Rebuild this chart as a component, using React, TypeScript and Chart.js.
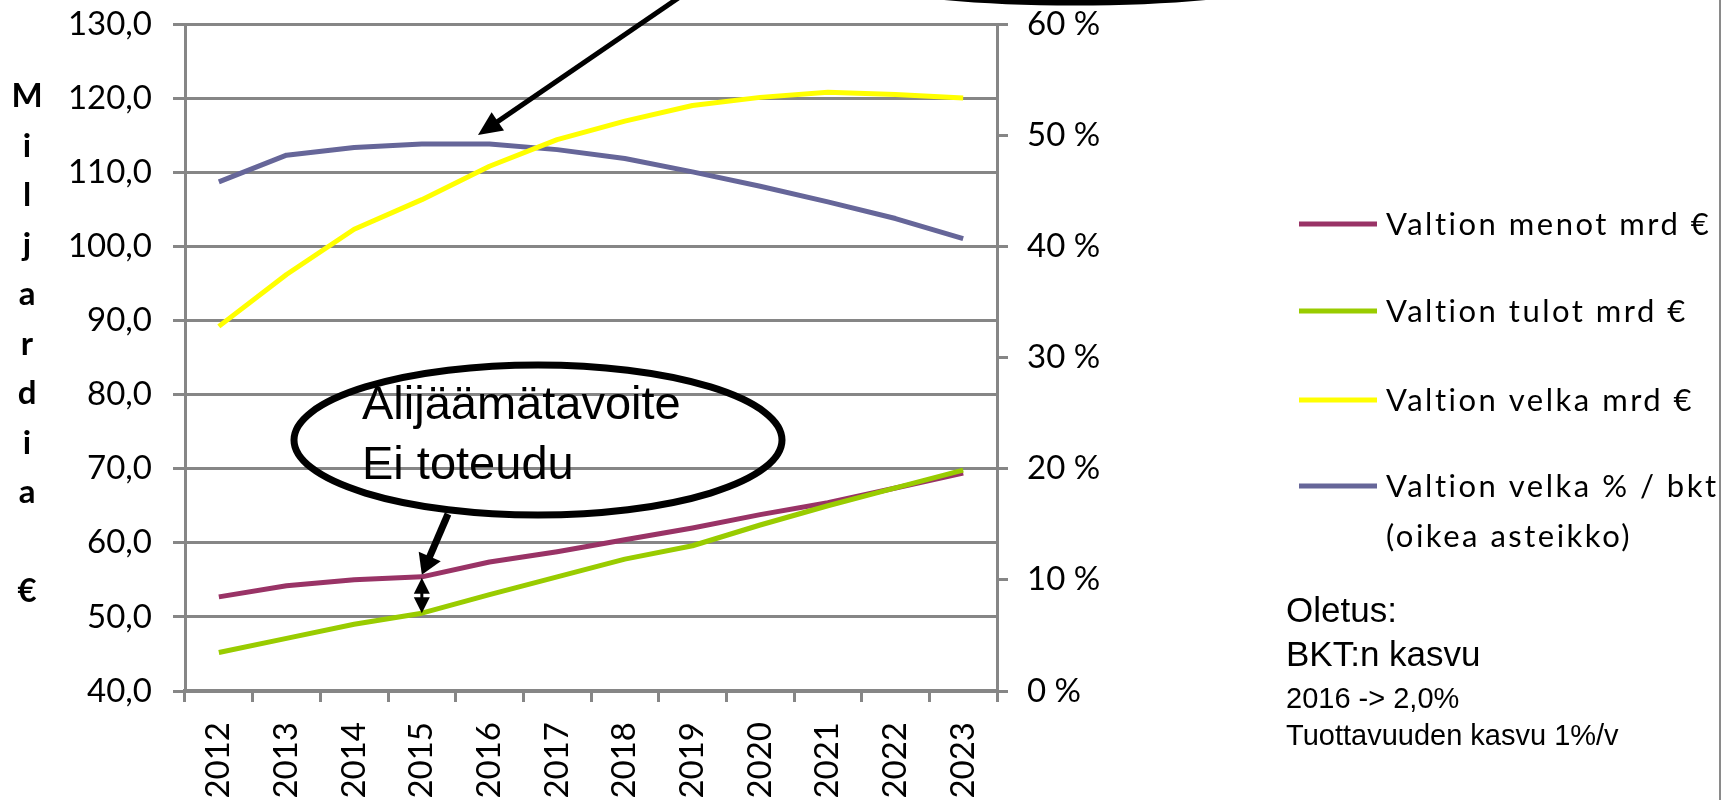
import React, { useEffect, useRef } from 'react';
import { Chart, registerables } from 'chart.js';

Chart.register(...registerables);

// ---- Data ----
const years = ['2012', '2013', '2014', '2015', '2016', '2017', '2018', '2019', '2020', '2021', '2022', '2023'];
const menot = [52.7, 54.2, 55.0, 55.4, 57.4, 58.8, 60.4, 62.0, 63.8, 65.4, 67.4, 69.4];
const tulot = [45.2, 47.1, 49.0, 50.5, 53.0, 55.4, 57.8, 59.6, 62.4, 65.0, 67.4, 69.8];
const velka = [89.2, 96.2, 102.3, 106.3, 110.8, 114.4, 116.9, 119.0, 120.1, 120.8, 120.5, 120.0];
const velkaPct = [45.8, 48.2, 48.9, 49.2, 49.2, 48.7, 47.9, 46.7, 45.4, 44.0, 42.5, 40.7];

const legendLines = [
  ['Valtion menot mrd €'],
  ['Valtion tulot mrd €'],
  ['Valtion velka mrd €'],
  ['Valtion velka % / bkt', '(oikea asteikko)'],
];
const seriesColors = ['#993366', '#99CC00', '#FFFF00', '#666699'];
const yTitle = 'Miljardia €';
const calloutLines = ['Alijäämätavoite', 'Ei toteudu'];
const noteLines = ['Oletus:', 'BKT:n kasvu', '2016 -> 2,0%', 'Tuottavuuden kasvu 1%/v'];

const GRID = '#868686';
const FONT = 'Lato, "Open Sans", sans-serif';
const ARIAL = '"Liberation Sans", Arial, sans-serif';

function arrowHead(ctx: CanvasRenderingContext2D, x1: number, y1: number, x2: number, y2: number, len: number, wid: number) {
  const a = Math.atan2(y2 - y1, x2 - x1);
  const bx = x2 - len * Math.cos(a);
  const by = y2 - len * Math.sin(a);
  const nx = -Math.sin(a), ny = Math.cos(a);
  ctx.beginPath();
  ctx.moveTo(x2, y2);
  ctx.lineTo(bx + nx * wid / 2, by + ny * wid / 2);
  ctx.lineTo(bx - nx * wid / 2, by - ny * wid / 2);
  ctx.closePath();
  ctx.fill();
}

function arrow(ctx: CanvasRenderingContext2D, x1: number, y1: number, x2: number, y2: number, lw: number, len: number, wid: number) {
  const a = Math.atan2(y2 - y1, x2 - x1);
  ctx.lineWidth = lw;
  ctx.beginPath();
  ctx.moveTo(x1, y1);
  ctx.lineTo(x2 - (len - 2) * Math.cos(a), y2 - (len - 2) * Math.sin(a));
  ctx.stroke();
  arrowHead(ctx, x1, y1, x2, y2, len, wid);
}

const overlay = {
  id: 'overlay',
  afterDraw(chart: any) {
    const ctx: CanvasRenderingContext2D = chart.ctx;
    const xs = chart.scales.x;
    const ys = chart.scales.y;
    ctx.save();
    ctx.fillStyle = '#000';
    ctx.strokeStyle = '#000';

    // vertical y-axis title, stacked letters
    ctx.font = `bold 33px ${FONT}`;
    ctx.textAlign = 'center';
    ctx.textBaseline = 'alphabetic';
    Array.from(yTitle).forEach((c, i) => {
      ctx.fillText(c, 27, 107 + i * 49.5);
    });

    // legend
    const legendY = [224, 311, 400, 486];
    ctx.textAlign = 'left';
    ctx.font = `31px ${FONT}`;
    (ctx as any).letterSpacing = '2.5px';
    legendLines.forEach((lines, i) => {
      const cy = legendY[i];
      ctx.strokeStyle = seriesColors[i];
      ctx.lineWidth = 5;
      ctx.beginPath();
      ctx.moveTo(1299, cy);
      ctx.lineTo(1377, cy);
      ctx.stroke();
      ctx.fillStyle = '#000';
      lines.forEach((t, j) => ctx.fillText(t, 1386, cy + 11 + j * 50));
    });
    (ctx as any).letterSpacing = '0px';

    // notes
    ctx.font = `35px ${ARIAL}`;
    ctx.fillText(noteLines[0], 1286, 622);
    ctx.fillText(noteLines[1], 1286, 666);
    ctx.font = `29px ${ARIAL}`;
    ctx.fillText(noteLines[2], 1286, 708);
    ctx.fillText(noteLines[3], 1286, 745);

    // right border line
    ctx.strokeStyle = '#8a8a8a';
    ctx.lineWidth = 2;
    ctx.beginPath();
    ctx.moveTo(1720, 0);
    ctx.lineTo(1720, 800);
    ctx.stroke();

    // callout ellipse
    ctx.strokeStyle = '#000';
    ctx.lineWidth = 7;
    ctx.beginPath();
    ctx.ellipse(538, 440, 244, 75, 0, 0, Math.PI * 2);
    ctx.stroke();
    ctx.font = `47px ${ARIAL}`;
    ctx.fillStyle = '#000';
    ctx.fillText(calloutLines[0], 362, 419);
    ctx.fillText(calloutLines[1], 362, 479);

    // arrow from callout to 2015 expenditure point
    const x15 = xs.getPixelForValue(3);
    const yM = ys.getPixelForValue(menot[3]);
    const yT = ys.getPixelForValue(tulot[3]);
    arrow(ctx, 448, 514, x15, yM - 2, 7, 20, 24);

    // double arrow between expenditure and revenue in 2015
    ctx.lineWidth = 3;
    ctx.beginPath();
    ctx.moveTo(x15, yM + 14);
    ctx.lineTo(x15, yT - 14);
    ctx.stroke();
    arrowHead(ctx, x15, yT, x15, yM + 1, 16, 16);
    arrowHead(ctx, x15, yM, x15, yT, 16, 16);

    // top ellipse (mostly off-canvas)
    ctx.lineWidth = 7;
    ctx.beginPath();
    ctx.ellipse(1075, -43, 270, 45, 0, 0, Math.PI * 2);
    ctx.stroke();

    // arrow pointing to debt ratio line
    arrow(ctx, 690, -10, 478, 135, 5, 24, 22);

    ctx.restore();
  },
};

const noPad = (s: any) => {
  s.paddingTop = 0;
  s.paddingBottom = 0;
};

export default function App() {
  const ref = useRef<HTMLCanvasElement | null>(null);

  useEffect(() => {
    if (!ref.current) return;
    const mk = (label: string, data: number[], color: string, axis: string, order: number) => ({
      label,
      data,
      borderColor: color,
      backgroundColor: color,
      borderWidth: 5,
      pointRadius: 0,
      tension: 0,
      fill: false,
      yAxisID: axis,
      order,
      borderJoinStyle: 'round' as const,
    });
    const chart = new Chart(ref.current, {
      type: 'line',
      data: {
        labels: years,
        datasets: [
          mk(legendLines[0].join(' '), menot, seriesColors[0], 'y', 2),
          mk(legendLines[1].join(' '), tulot, seriesColors[1], 'y', 1),
          mk(legendLines[2].join(' '), velka, seriesColors[2], 'y', 3),
          mk(legendLines[3].join(' '), velkaPct, seriesColors[3], 'y1', 4),
        ],
      },
      options: {
        responsive: false,
        animation: false,
        devicePixelRatio: 1,
        layout: { padding: { left: 0, top: 24, right: 620, bottom: 0 } },
        plugins: { legend: { display: false }, tooltip: { enabled: false } },
        scales: {
          x: {
            type: 'category',
            offset: true,
            grid: {
              display: true,
              drawOnChartArea: false,
              drawTicks: true,
              tickLength: 11,
              offset: true,
              color: GRID,
              tickColor: GRID,
              lineWidth: 3,
              tickWidth: 3,
            },
            border: { color: GRID, width: 4 },
            ticks: {
              autoSkip: false,
              maxRotation: 90,
              minRotation: 90,
              padding: 20,
              color: '#000',
              font: { family: FONT, size: 33 },
            },
            afterFit: (s: any) => { s.height = 109; s.paddingLeft = 0; s.paddingRight = 0; },
          },
          y: {
            position: 'left',
            min: 40,
            max: 130,
            ticks: {
              stepSize: 10,
              padding: 21,
              color: '#000',
              font: { family: FONT, size: 33 },
              callback: (v: any) => Number(v).toFixed(1).replace('.', ','),
            },
            grid: { color: GRID, tickColor: GRID, lineWidth: 3, tickLength: 12 },
            border: { color: GRID, width: 3 },
            afterFit: (s: any) => { s.width = 185; noPad(s); },
          },
          y1: {
            position: 'right',
            min: 0,
            max: 60,
            ticks: {
              stepSize: 10,
              padding: 19,
              color: '#000',
              font: { family: FONT, size: 33 },
              callback: (v: any) => `${v} %`,
            },
            grid: { drawOnChartArea: false, color: GRID, tickColor: GRID, lineWidth: 3, tickLength: 11 },
            border: { color: GRID, width: 3 },
            afterFit: (s: any) => { s.width = 110; noPad(s); },
          },
        },
      },
      plugins: [overlay],
    });
    return () => chart.destroy();
  }, []);

  return (
    <div style={{ position: 'fixed', left: 0, top: 0, width: 1727, height: 800, background: '#fff', overflow: 'hidden' }}>
      <canvas ref={ref} width={1727} height={800} style={{ display: 'block' }} />
    </div>
  );
}
